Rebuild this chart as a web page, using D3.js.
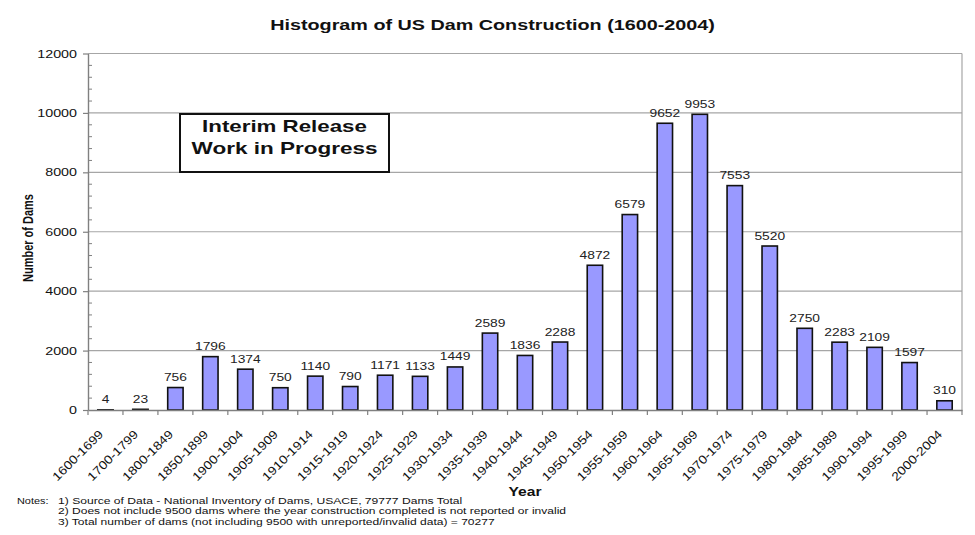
<!DOCTYPE html>
<html>
<head>
<meta charset="utf-8">
<script src="https://cdn.jsdelivr.net/npm/d3@7"></script>
<style>
  html, body { margin: 0; padding: 0; background: #fff; }
  svg { display: block; font-family: Arial, "Liberation Sans", sans-serif; }
</style>
</head>
<body>
<svg id="chart" width="975" height="535"></svg>
<script>
const categories = ["1600-1699","1700-1799","1800-1849","1850-1899","1900-1904","1905-1909","1910-1914","1915-1919","1920-1924","1925-1929","1930-1934","1935-1939","1940-1944","1945-1949","1950-1954","1955-1959","1960-1964","1965-1969","1970-1974","1975-1979","1980-1984","1985-1989","1990-1994","1995-1999","2000-2004"];
const counts = [4,23,756,1796,1374,750,1140,790,1171,1133,1449,2589,1836,2288,4872,6579,9652,9953,7553,5520,2750,2283,2109,1597,310];
const yTicks = [0,2000,4000,6000,8000,10000,12000];
const titleText = "Histogram of US Dam Construction (1600-2004)";
const yTitle = "Number of Dams";
const xTitle = "Year";
const boxLines = ["Interim Release","Work in Progress"];
const noteLabel = "Notes:";
const notes = [
  "1) Source of Data - National Inventory of Dams, USACE, 79777 Dams Total",
  "2) Does not include 9500 dams where the year construction completed is not reported or invalid",
  "3) Total number of dams (not including 9500 with unreported/invalid data) = 70277"
];

const svg = d3.select("#chart");
const L = 88, R = 962, T = 53.5, B = 410;
const FONT = "Arial, 'Liberation Sans', sans-serif";

function txt(parent, o) {
  const g = parent.append("g");
  const t = g.append("text")
    .attr("font-family", FONT)
    .attr("font-size", o.size)
    .attr("font-weight", o.weight || "normal")
    .attr("text-anchor", o.anchor || "start")
    .attr("fill", o.fill || "#111")
    .text(o.text);
  let s = o.sx || 1;
  if (o.width) s = o.width / t.node().getComputedTextLength();
  let tr;
  if (o.rotate === -90) tr = `translate(${o.x},${o.y}) scale(${s},1) rotate(-90)`;
  else if (o.rotate) tr = `translate(${o.x},${o.y}) rotate(${o.rotate}) scale(${s},1)`;
  else tr = `translate(${o.x},${o.y}) scale(${s},1)`;
  g.attr("transform", tr);
  return g;
}

const x = d3.scaleBand().domain(categories).range([L, R]).paddingInner(0.56).paddingOuter(0.28);
const xs = d3.scaleBand().domain(categories).range([L, R]).padding(0);
const y = d3.scaleLinear().domain([0, 12000]).range([B, T]);

svg.append("g").selectAll("line").data(yTicks.filter(d => d > 0)).join("line")
  .attr("x1", L).attr("x2", R)
  .attr("y1", d => y(d)).attr("y2", d => y(d))
  .attr("stroke", "#a6a6a6").attr("stroke-width", 1.2);

svg.append("line").attr("x1", R).attr("x2", R).attr("y1", T).attr("y2", B)
  .attr("stroke", "#a6a6a6").attr("stroke-width", 1.2);

svg.append("g").selectAll("line").data(d3.range(0, 12001, 400).filter(v => v % 2000 !== 0)).join("line")
  .attr("x1", L).attr("x2", L + 4)
  .attr("y1", d => y(d)).attr("y2", d => y(d))
  .attr("stroke", "#808080").attr("stroke-width", 1);

const yAxis = svg.append("g").attr("transform", `translate(${L},0)`)
  .call(d3.axisLeft(y).tickValues(yTicks).tickSize(5).tickSizeOuter(0).tickFormat(""));
yAxis.select(".domain").attr("stroke", "#808080").attr("stroke-width", 1.4);
yAxis.selectAll(".tick line").attr("stroke", "#808080").attr("stroke-width", 1.2);
const yLab = svg.append("g");
yTicks.forEach(v => txt(yLab, { x: L - 11, y: y(v) + 4, text: d3.format("d")(v), size: 11, anchor: "end", sx: 1.3 }));

svg.append("g").selectAll("rect").data(categories).join("rect")
  .attr("x", d => x(d))
  .attr("width", x.bandwidth())
  .attr("y", (d, i) => y(counts[i]))
  .attr("height", (d, i) => B - y(counts[i]))
  .attr("fill", "#9999ff").attr("stroke", "#111").attr("stroke-width", 1.6);

const xAxis = svg.append("g").attr("transform", `translate(0,${B})`)
  .call(d3.axisBottom(xs).tickSize(0).tickSizeOuter(0).tickFormat(""));
xAxis.select(".domain").attr("stroke", "#808080").attr("stroke-width", 1.4);
xAxis.selectAll(".tick").remove();
svg.append("g").selectAll("line").data(categories.concat(["__end"])).join("line")
  .attr("x1", (d, i) => i < categories.length ? xs(d) : R)
  .attr("x2", (d, i) => i < categories.length ? xs(d) : R)
  .attr("y1", B).attr("y2", B + 5)
  .attr("stroke", "#808080").attr("stroke-width", 1.2);

const xLab = svg.append("g");
categories.forEach(c => txt(xLab, { x: xs(c) + xs.bandwidth() / 2 - 1.5, y: B + 25, text: c, size: 12, anchor: "end", rotate: -45, sx: 1.15 }));

const vLab = svg.append("g");
categories.forEach((c, i) => txt(vLab, { x: xs(c) + xs.bandwidth() / 2, y: y(counts[i]) - 6.5, text: String(counts[i]), size: 11.5, anchor: "middle", sx: 1.2, fill: "#222" }));

txt(svg, { x: 492.5, y: 30, text: titleText, size: 15, weight: "bold", anchor: "middle", width: 445 });
txt(svg, { x: 33, y: 238, text: yTitle, size: 11, weight: "bold", anchor: "middle", rotate: -90, sx: 1.35 });
txt(svg, { x: 525, y: 496, text: xTitle, size: 13, weight: "bold", anchor: "middle", width: 33 });

svg.append("rect").attr("x", 180).attr("y", 114).attr("width", 209).attr("height", 58)
  .attr("fill", "#fff").attr("stroke", "#111").attr("stroke-width", 2);
txt(svg, { x: 284.5, y: 132, text: boxLines[0], size: 16.5, weight: "bold", anchor: "middle", width: 165 });
txt(svg, { x: 284.5, y: 153.5, text: boxLines[1], size: 16.5, weight: "bold", anchor: "middle", width: 186 });

const noteWidths = [405, 509, 437];
txt(svg, { x: 17, y: 503.5, text: noteLabel, size: 9.5, width: 31.5 });
notes.forEach((n, i) => txt(svg, { x: 58, y: 503.5 + i * 10.8, text: n, size: 9.5, width: noteWidths[i] }));
</script>
</body>
</html>
